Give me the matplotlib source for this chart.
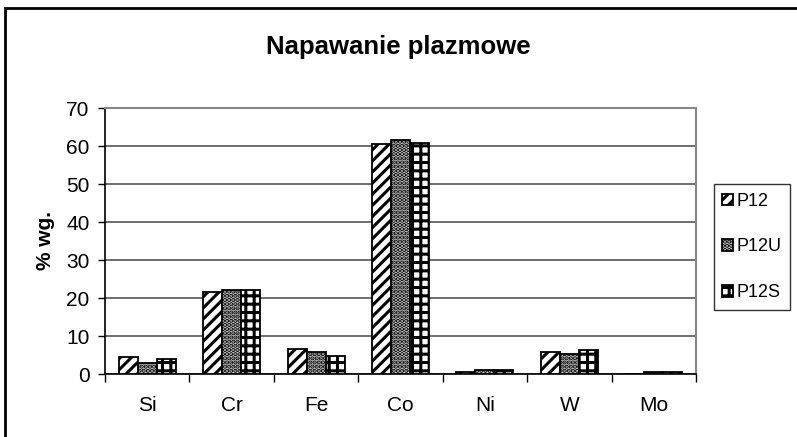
import matplotlib.pyplot as plt
import numpy as np
from matplotlib.patches import Rectangle

plt.rcParams['font.family'] = ['Liberation Sans', 'DejaVu Sans']
plt.rcParams['hatch.linewidth'] = 2.2

elements = ["Si", "Cr", "Fe", "Co", "Ni", "W", "Mo"]
series = ["P12", "P12U", "P12S"]
p12 = [4.5, 21.6, 6.7, 60.5, 0.6, 5.8, 0.0]
p12u = [3.0, 22.0, 5.8, 61.6, 1.0, 5.2, 0.6]
p12s = [3.9, 22.0, 4.8, 60.7, 1.0, 6.2, 0.6]

W, H = 797, 437
fig = plt.figure(figsize=(W / 100, H / 100), dpi=100)

# outer chart border (runs off the bottom/right edge like the reference)
fig.patches.append(Rectangle((5 / W, -0.1), 1.1, 1 - 8 / H + 0.1, transform=fig.transFigure,
                             fill=False, edgecolor='black', linewidth=2))

ax = fig.add_axes([105 / W, 1 - 374 / H, (696 - 105) / W, (374 - 108) / H])

x = np.arange(len(elements))
w = 0.225
styles = [
    dict(facecolor='white', hatch='///'),
    dict(facecolor='#cccccc', hatch='....'),
    dict(facecolor='white', hatch='++'),
]
bars = []
for i, (vals, st) in enumerate(zip([p12, p12u, p12s], styles)):
    b = ax.bar(x + (i - 1) * w, vals, w, edgecolor='black', linewidth=1.3,
               label=series[i], zorder=3, **st)
    bars.append(b)

ax.set_xlim(-0.5, len(elements) - 0.5)
ax.set_ylim(0, 70)
ax.set_yticks(range(0, 71, 10))
ax.yaxis.grid(True, color='#555555', linewidth=1.2, zorder=0)
ax.set_xticks(x)
ax.set_xticklabels(elements, fontsize=15)
ax.set_xticks(np.arange(-0.5, len(elements)), minor=True)
ax.tick_params(axis='x', which='major', length=0, pad=16)
ax.tick_params(axis='x', which='minor', length=6, direction='out', width=1)
ax.tick_params(axis='y', labelsize=15, length=5, direction='out', width=1, pad=6)

for side in ['top', 'right']:
    ax.spines[side].set_color('#888888')
    ax.spines[side].set_linewidth(1.5)
ax.spines['left'].set_linewidth(1.2)
ax.spines['bottom'].set_linewidth(1.2)

ax.set_ylabel('% wg.', fontsize=15, fontweight='bold', labelpad=8)
fig.text(398 / W, 1 - 47 / H, 'Napawanie plazmowe', ha='center', va='center',
         fontsize=18.5, fontweight='bold')

leg = fig.legend(handles=bars, labels=series, loc='center left',
                 bbox_to_anchor=(714 / W, 1 - 247 / H), fontsize=13,
                 frameon=True, fancybox=False, edgecolor='black',
                 handlelength=0.6, handleheight=0.6, handletextpad=0.2,
                 labelspacing=1.6, borderpad=0.45, borderaxespad=0)
leg.get_frame().set_linewidth(1.0)

fig.savefig('out.png', dpi=100)
